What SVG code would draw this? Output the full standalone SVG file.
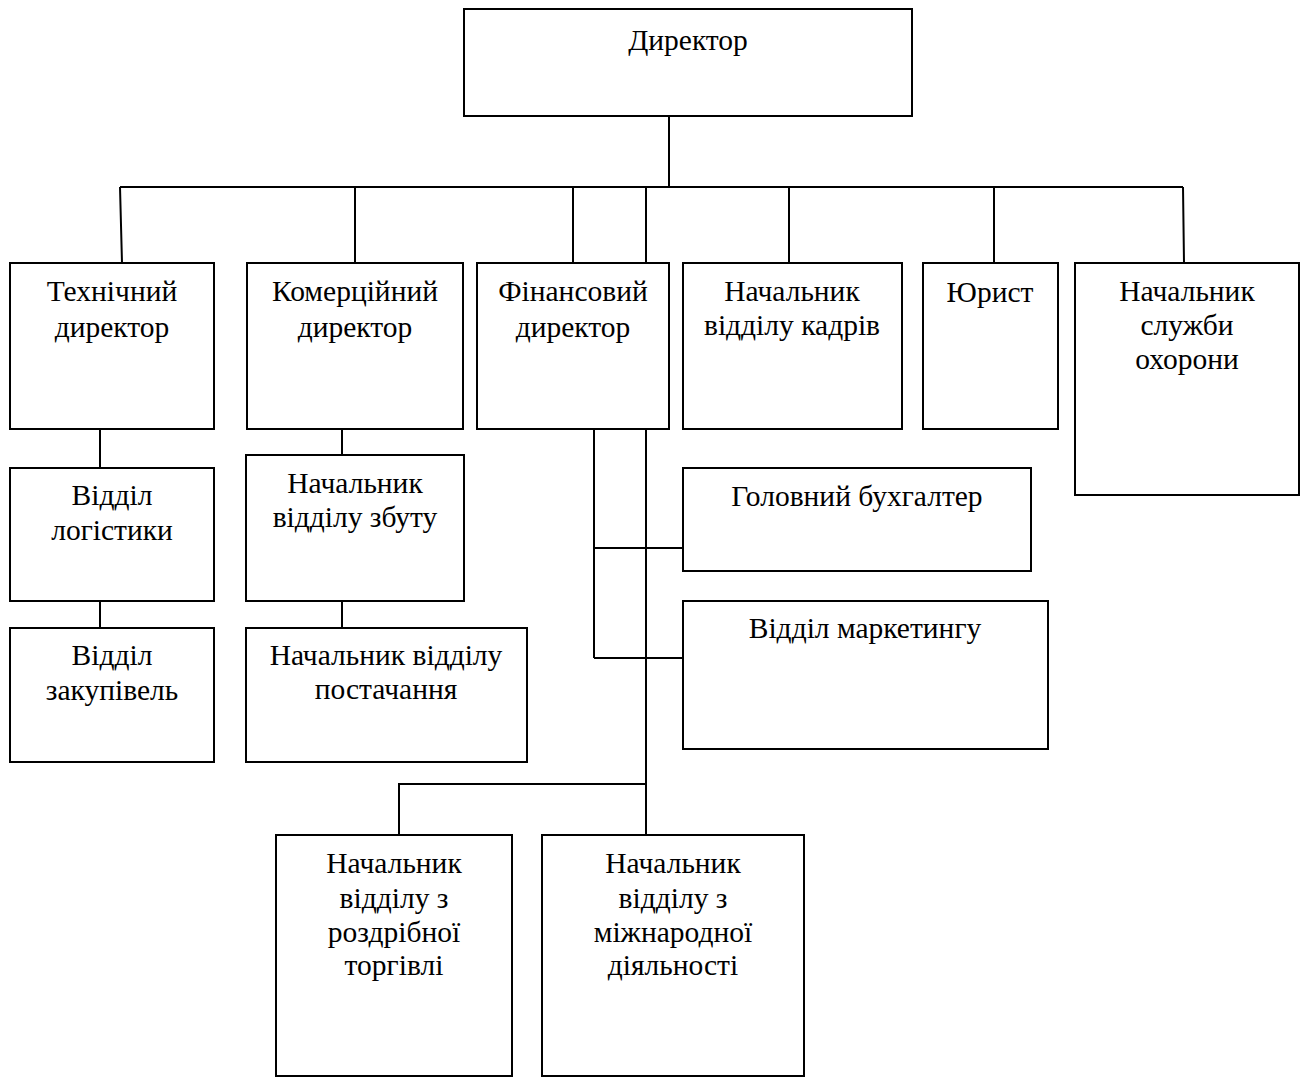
<svg xmlns="http://www.w3.org/2000/svg" width="1303" height="1077" viewBox="0 0 1303 1077">
<style>
.box{fill:#fff;stroke:#000;stroke-width:2}
.ln{fill:none;stroke:#000;stroke-width:2}
text{font-family:"Liberation Serif","Times New Roman",serif;font-size:29.5px;fill:#000;text-anchor:middle}
</style>
<rect width="1303" height="1077" fill="#fff"/>
<g id="connectors">
<path class="ln" d="M669 116V187M120 187H1183M120 187L122 263M355 187V263M573 187V263M646 187V263M789 187V263M994 187V263M1183 187L1184 263"/>
<path class="ln" d="M100 429V468M100 601V628M342 429V455M342 601V628"/>
<path class="ln" d="M594 429V658M646 429V835M594 548H683M594 658H683M399 835V784H646"/>
</g>
<g id="n-director"><rect class="box" x="464" y="9" width="448" height="107"/><text x="688" y="50">Директор</text></g>
<g id="n-tech"><rect class="box" x="10" y="263" width="204" height="166"/><text x="112" y="301">Технічний</text><text x="112" y="337">директор</text></g>
<g id="n-kom"><rect class="box" x="247" y="263" width="216" height="166"/><text x="355" y="301">Комерційний</text><text x="355" y="337">директор</text></g>
<g id="n-fin"><rect class="box" x="477" y="263" width="192" height="166"/><text x="573" y="301">Фінансовий</text><text x="573" y="337">директор</text></g>
<g id="n-kadry"><rect class="box" x="683" y="263" width="219" height="166"/><text x="792" y="301">Начальник</text><text x="792" y="335">відділу кадрів</text></g>
<g id="n-yurist"><rect class="box" x="923" y="263" width="135" height="166"/><text x="990" y="302">Юрист</text></g>
<g id="n-okhorona"><rect class="box" x="1075" y="263" width="224" height="232"/><text x="1187" y="301">Начальник</text><text x="1187" y="335">служби</text><text x="1187" y="369">охорони</text></g>
<g id="n-logistyka"><rect class="box" x="10" y="468" width="204" height="133"/><text x="112" y="505">Відділ</text><text x="112" y="540">логістики</text></g>
<g id="n-zakupivli"><rect class="box" x="10" y="628" width="204" height="134"/><text x="112" y="665">Відділ</text><text x="112" y="700">закупівель</text></g>
<g id="n-zbut"><rect class="box" x="246" y="455" width="218" height="146"/><text x="355" y="493">Начальник</text><text x="355" y="527">відділу збуту</text></g>
<g id="n-postach"><rect class="box" x="246" y="628" width="281" height="134"/><text x="386" y="665">Начальник відділу</text><text x="386" y="699">постачання</text></g>
<g id="n-buh"><rect class="box" x="683" y="468" width="348" height="103"/><text x="857" y="506">Головний бухгалтер</text></g>
<g id="n-marketing"><rect class="box" x="683" y="601" width="365" height="148"/><text x="865" y="638">Відділ маркетингу</text></g>
<g id="n-rozdrib"><rect class="box" x="276" y="835" width="236" height="241"/><text x="394" y="873">Начальник</text><text x="394" y="908">відділу з</text><text x="394" y="942">роздрібної</text><text x="394" y="975">торгівлі</text></g>
<g id="n-mizhnar"><rect class="box" x="542" y="835" width="262" height="241"/><text x="673" y="873">Начальник</text><text x="673" y="908">відділу з</text><text x="673" y="942">міжнародної</text><text x="673" y="975">діяльності</text></g>
</svg>
